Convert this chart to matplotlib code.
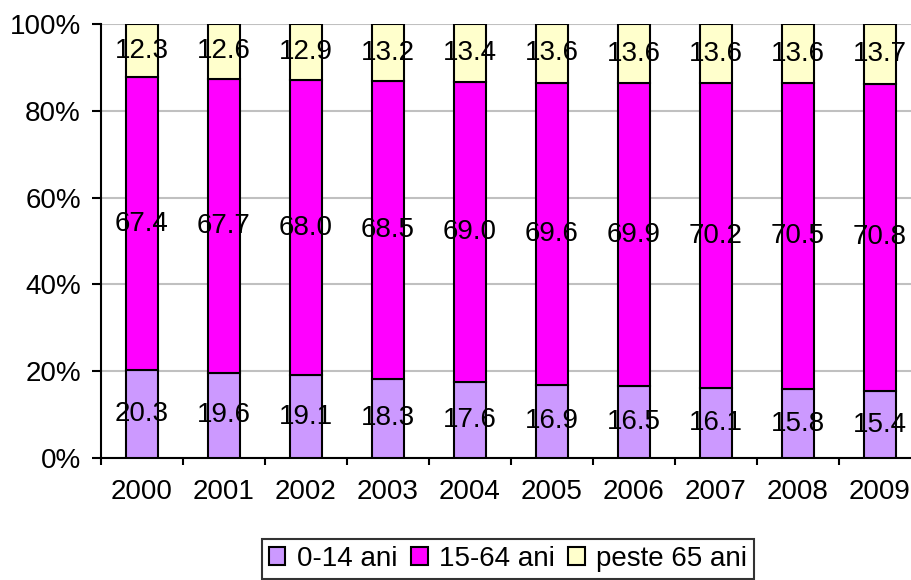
import matplotlib
matplotlib.use("Agg")
import matplotlib.pyplot as plt
import numpy as np

years = ["2000", "2001", "2002", "2003", "2004", "2005", "2006", "2007", "2008", "2009"]
age_0_14 = [20.3, 19.6, 19.1, 18.3, 17.6, 16.9, 16.5, 16.1, 15.8, 15.4]
age_15_64 = [67.4, 67.7, 68.0, 68.5, 69.0, 69.6, 69.9, 70.2, 70.5, 70.8]
age_65 = [12.3, 12.6, 12.9, 13.2, 13.4, 13.6, 13.6, 13.6, 13.6, 13.7]
series_names = ["0-14 ani", "15-64 ani", "peste 65 ani"]
colors = ["#CC99FF", "#FF00FF", "#FFFFCC"]

plt.rcParams['font.family'] = ['Liberation Sans', 'DejaVu Sans']
FS = 20
W, H = 911, 580
fig = plt.figure(figsize=(W/100, H/100), dpi=100)
left, right, top, bottom = 101, 921, 24, 458
ax = fig.add_axes([left/W, 1 - bottom/H, (right-left)/W, (bottom-top)/H])

data = [age_0_14, age_15_64, age_65]
totals = np.sum(data, axis=0)
x = np.arange(len(years))
base = np.zeros(len(years))
for vals, c, name in zip(data, colors, series_names):
    pct = np.array(vals) / totals * 100
    ax.bar(x, pct, width=0.39, bottom=base, color=c, edgecolor="black",
           linewidth=1.5, label=name, zorder=3)
    for xi, bi, pi, v in zip(x, base, pct, vals):
        ax.text(xi, bi + pi/2, f"{v:.1f}", ha="center", va="center",
                fontsize=FS, zorder=4)
    base = base + pct

ax.set_xlim(-0.5, len(years) - 0.5)
ax.set_ylim(0, 100)
ax.set_yticks([0, 20, 40, 60, 80, 100])
ax.set_yticklabels(["0%", "20%", "40%", "60%", "80%", "100%"], fontsize=FS)
ax.yaxis.grid(True, color="#C0C0C0", linewidth=1.5, zorder=0)
ax.set_axisbelow(True)
ax.set_xticks(x)
ax.set_xticklabels(years, fontsize=FS)
ax.tick_params(axis="x", length=0, pad=15)
ax.set_xticks(np.arange(-0.5, len(years)), minor=True)
ax.tick_params(axis="x", which="minor", length=5, width=1.5, direction="out")
ax.tick_params(axis="y", length=6.5, width=1.5, direction="out", pad=8)
for s in ["top", "right"]:
    ax.spines[s].set_visible(False)
for s in ["left", "bottom"]:
    ax.spines[s].set_linewidth(1.5)

leg = fig.legend(loc="center", bbox_to_anchor=(508/W, 1 - 559/H), ncol=3,
                 fontsize=FS, frameon=True, fancybox=False, edgecolor="black",
                 handlelength=0.6, handleheight=0.6, handletextpad=0.4,
                 columnspacing=0.5, borderpad=0.25, borderaxespad=0)
leg.get_frame().set_linewidth(1.5)
for p in leg.get_patches():
    p.set_linewidth(1.5)

fig.savefig("out.png", dpi=100)
